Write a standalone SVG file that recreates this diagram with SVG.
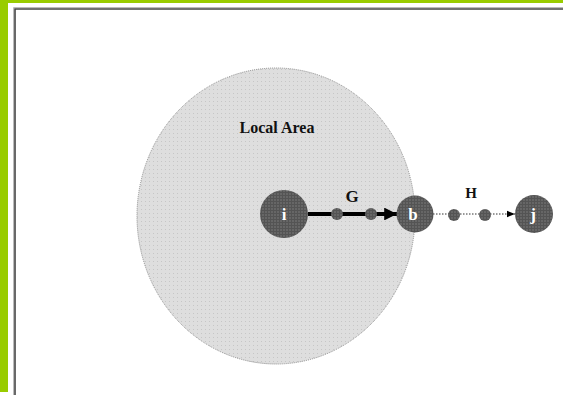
<svg xmlns="http://www.w3.org/2000/svg" width="563" height="395" viewBox="0 0 563 395">
  <defs>
    <!-- fine dot texture for the area fill -->
    <pattern id="areaDots" width="4" height="4" patternUnits="userSpaceOnUse">
      <rect width="4" height="4" fill="#dedede"/>
      <rect x="1" y="1" width="1" height="1" fill="#c6c6c6"/>
    </pattern>
    <!-- grid texture for the node fill -->
    <pattern id="nodeGrid" width="3" height="3" patternUnits="userSpaceOnUse">
      <rect width="3" height="3" fill="#666666"/>
      <rect x="0" y="0" width="3" height="1" fill="#545454"/>
      <rect x="0" y="0" width="1" height="3" fill="#545454"/>
    </pattern>
    <marker id="headBold" viewBox="0 0 10 10" refX="10" refY="5" markerWidth="3.2" markerHeight="3.2" orient="auto" markerUnits="strokeWidth">
      <path d="M0,0 L10,5 L0,10 z" fill="#000"/>
    </marker>
    <marker id="headThin" viewBox="0 0 10 10" refX="10" refY="5" markerWidth="8" markerHeight="8" orient="auto" markerUnits="userSpaceOnUse">
      <path d="M0,1 L10,5 L0,9 z" fill="#000"/>
    </marker>
  </defs>
  <style>
    .node { fill: url(#nodeGrid); }
    .hop { fill: url(#nodeGrid); }
    .nlabel { font-family: "Liberation Serif", serif; font-weight: bold; font-size: 17px; fill: #ffffff; text-anchor: middle; }
    .elabel { font-family: "Liberation Serif", serif; font-weight: bold; fill: #111; text-anchor: middle; }
  </style>

  <rect width="563" height="395" fill="#ffffff"/>

  <!-- page frame -->
  <g id="frame">
    <rect x="0" y="0" width="8" height="392" fill="#99cc00"/>
    <rect x="0" y="0" width="563" height="3" fill="#99cc00"/>
    <path d="M13.5,395 V7.5 H563" fill="none" stroke="#bbbbbb" stroke-width="1"/>
    <path d="M15,395 V9 H563" fill="none" stroke="#444444" stroke-width="1.6"/>
  </g>

  <!-- local area -->
  <g id="local-area">
    <ellipse cx="276" cy="216" rx="139" ry="148" fill="url(#areaDots)" stroke="#8a8a8a" stroke-width="1" stroke-dasharray="1 1"/>
    <text class="elabel" x="277" y="133" font-size="16">Local Area</text>
  </g>

  <!-- connectors -->
  <g id="connectors">
    <line x1="308" y1="214" x2="397" y2="214" stroke="#000" stroke-width="4" marker-end="url(#headBold)"/>
    <line x1="433" y1="214" x2="515" y2="214" stroke="#333" stroke-width="1" stroke-dasharray="1.5 1.5" marker-end="url(#headThin)"/>
    <text class="elabel" x="352" y="202" font-size="17">G</text>
    <text class="elabel" x="471" y="198" font-size="15">H</text>
  </g>

  <!-- nodes -->
  <g id="node-i">
    <circle class="node" cx="284" cy="214" r="24"/>
    <text class="nlabel" x="284" y="220">i</text>
  </g>
  <g id="hop-g1"><circle class="hop" cx="337" cy="214" r="6"/></g>
  <g id="hop-g2"><circle class="hop" cx="371" cy="214" r="6"/></g>
  <g id="node-b">
    <circle class="node" cx="415" cy="214" r="18.5"/>
    <text class="nlabel" x="413" y="220">b</text>
  </g>
  <g id="hop-h1"><circle class="hop" cx="454" cy="215" r="6"/></g>
  <g id="hop-h2"><circle class="hop" cx="485" cy="215" r="6"/></g>
  <g id="node-j">
    <circle class="node" cx="534" cy="214" r="19"/>
    <text class="nlabel" x="533" y="220">j</text>
  </g>
</svg>
